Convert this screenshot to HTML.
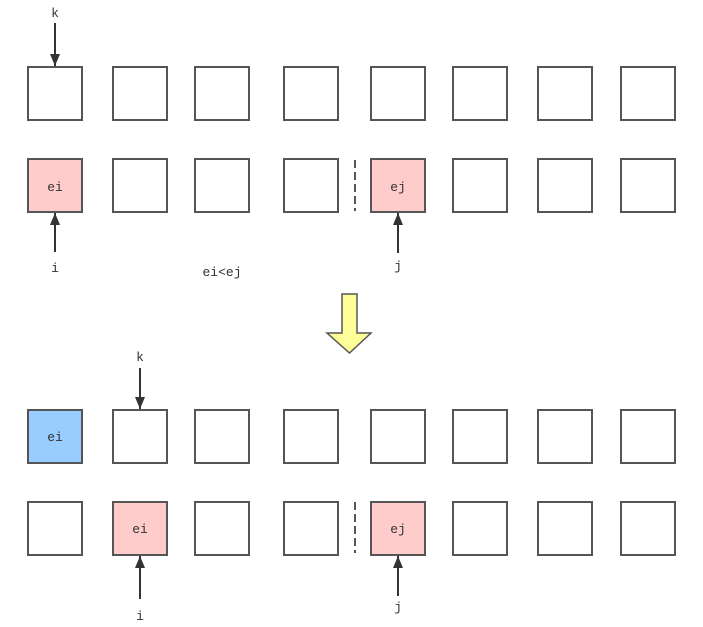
<!DOCTYPE html>
<html><head><style>body{margin:0;background:#fff}svg{display:block}</style></head><body>
<svg width="703" height="627" xmlns="http://www.w3.org/2000/svg" font-family="Liberation Mono, monospace" font-size="13" fill="#333">
<defs><marker id="a" markerWidth="8" markerHeight="10" refX="7" refY="5" orient="auto" markerUnits="userSpaceOnUse"><path d="M0,0 L12,5 L0,10 z" fill="#333"/></marker>
<marker id="h" viewBox="0 0 12 10" markerWidth="12" markerHeight="10" refX="12" refY="5" orient="auto" markerUnits="userSpaceOnUse"><path d="M0,0 L12,5 L0,10 z" fill="#333"/></marker></defs>
<g stroke="#555" stroke-width="2" fill="#fff">
<!-- row1 -->
<rect x="28" y="67" width="54" height="53"/><rect x="113" y="67" width="54" height="53"/><rect x="195" y="67" width="54" height="53"/><rect x="284" y="67" width="54" height="53"/><rect x="371" y="67" width="54" height="53"/><rect x="453" y="67" width="54" height="53"/><rect x="538" y="67" width="54" height="53"/><rect x="621" y="67" width="54" height="53"/>
<!-- row2 -->
<rect x="28" y="159" width="54" height="53" fill="#ffcccc"/><rect x="113" y="159" width="54" height="53"/><rect x="195" y="159" width="54" height="53"/><rect x="284" y="159" width="54" height="53"/><rect x="371" y="159" width="54" height="53" fill="#ffcccc"/><rect x="453" y="159" width="54" height="53"/><rect x="538" y="159" width="54" height="53"/><rect x="621" y="159" width="54" height="53"/>
<!-- row3 -->
<rect x="28" y="410" width="54" height="53" fill="#99ccff"/><rect x="113" y="410" width="54" height="53"/><rect x="195" y="410" width="54" height="53"/><rect x="284" y="410" width="54" height="53"/><rect x="371" y="410" width="54" height="53"/><rect x="453" y="410" width="54" height="53"/><rect x="538" y="410" width="54" height="53"/><rect x="621" y="410" width="54" height="53"/>
<!-- row4 -->
<rect x="28" y="502" width="54" height="53"/><rect x="113" y="502" width="54" height="53" fill="#ffcccc"/><rect x="195" y="502" width="54" height="53"/><rect x="284" y="502" width="54" height="53"/><rect x="371" y="502" width="54" height="53" fill="#ffcccc"/><rect x="453" y="502" width="54" height="53"/><rect x="538" y="502" width="54" height="53"/><rect x="621" y="502" width="54" height="53"/>
<line x1="355" y1="160" x2="355" y2="211" stroke-dasharray="8,4"/>
<line x1="355" y1="502" x2="355" y2="553" stroke-dasharray="8,4"/>
</g>
<g stroke="#333" stroke-width="2">
<line x1="55" y1="23" x2="55" y2="66" marker-end="url(#h)"/>
<line x1="55" y1="252" x2="55" y2="213" marker-end="url(#h)"/>
<line x1="398" y1="253" x2="398" y2="213" marker-end="url(#h)"/>
<line x1="140" y1="368" x2="140" y2="409" marker-end="url(#h)"/>
<line x1="140" y1="599" x2="140" y2="556" marker-end="url(#h)"/>
<line x1="398" y1="596" x2="398" y2="556" marker-end="url(#h)"/>
</g>
<path d="M342,294 H357 V333 H371 L349.5,353 L327,333 H342 Z" fill="#ffff99" stroke="#555" stroke-width="1.5"/>
<g text-anchor="middle">
<text x="55" y="17">k</text>
<text x="55" y="191">ei</text>
<text x="398" y="191">ej</text>
<text x="55" y="272">i</text>
<text x="222" y="276">ei&lt;ej</text>
<text x="398" y="270">j</text>
<text x="140" y="361">k</text>
<text x="55" y="441">ei</text>
<text x="140" y="533">ei</text>
<text x="398" y="533">ej</text>
<text x="140" y="620">i</text>
<text x="398" y="611">j</text>
</g>
</svg>
</body></html>
